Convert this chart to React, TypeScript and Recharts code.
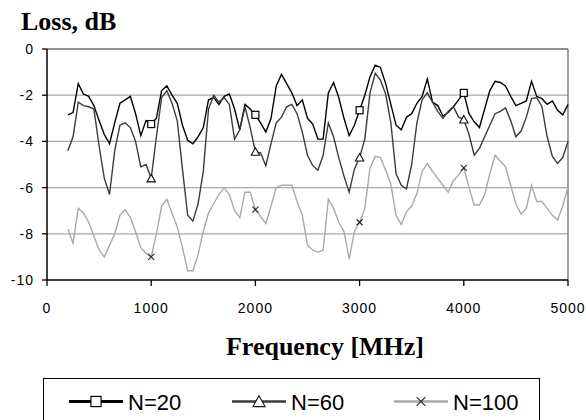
import React from 'react';
import { LineChart, Line, XAxis, YAxis, CartesianGrid, ReferenceLine } from 'recharts';

// frequency grid, MHz
const freq = [
  200, 250, 300, 350, 400, 450, 500, 550, 600, 650, 700, 750, 800, 850, 900, 950, 1000, 1050, 1100, 1150,
  1200, 1250, 1300, 1350, 1400, 1450, 1500, 1550, 1600, 1650, 1700, 1750, 1800, 1850, 1900, 1950, 2000, 2050,
  2100, 2150, 2200, 2250, 2300, 2350, 2400, 2450, 2500, 2550, 2600, 2650, 2700, 2750, 2800, 2850, 2900, 2950,
  3000, 3050, 3100, 3150, 3200, 3250, 3300, 3350, 3400, 3450, 3500, 3550, 3600, 3650, 3700, 3750, 3800, 3850,
  3900, 3950, 4000, 4050, 4100, 4150, 4200, 4250, 4300, 4350, 4400, 4450, 4500, 4550, 4600, 4650, 4700, 4750,
  4800, 4850, 4900, 4950, 5000,
];

const n20 = [
  -2.85, -2.75, -1.5, -1.95, -2.05, -2.45, -3.1, -3.7, -4.1, -3.2,
  -2.35, -2.2, -2.05, -2.8, -3.75, -3.1, -3.25, -3.0, -1.8, -1.6,
  -2.0, -2.35, -3.3, -3.95, -4.1, -3.8, -3.4, -2.2, -2.1, -2.4,
  -2.05, -1.95, -2.6, -3.5, -2.4, -2.6, -2.85, -3.2, -3.6, -3.0,
  -1.6, -1.1, -1.5, -1.9, -2.45, -2.2, -3.0, -3.25, -3.9, -3.9,
  -1.9, -1.45, -2.1, -3.0, -3.75, -3.3, -2.65, -2.0, -1.2, -0.7,
  -0.8, -1.5, -2.4, -3.3, -3.5, -2.95, -2.8, -2.35, -2.05, -1.3,
  -2.3, -2.45, -2.9, -2.75, -2.5, -2.2, -1.9, -2.8, -3.15, -3.4,
  -2.6, -1.8, -1.4, -1.45, -1.6, -2.05, -2.45, -2.35, -2.25, -1.4,
  -2.05, -2.15, -2.4, -2.25, -2.65, -2.85, -2.4,
];

const n60 = [
  -4.4, -3.8, -2.3, -2.45, -2.5, -2.6, -4.2, -5.6, -6.3, -4.4,
  -3.3, -3.2, -3.4, -4.0, -5.1, -5.0, -5.6, -3.8, -2.1, -1.8,
  -2.35, -3.1, -5.2, -7.2, -7.45, -6.7, -5.3, -2.6, -2.0, -2.3,
  -2.1, -2.4, -3.9, -3.5, -2.5, -3.4, -4.45, -4.5, -5.05, -4.1,
  -3.2, -2.95, -2.5, -2.4, -2.8, -3.6, -4.6, -5.05, -5.25, -4.6,
  -3.2, -3.8, -4.7, -5.5, -6.2, -5.2, -4.7, -3.9, -1.9, -1.05,
  -1.35, -1.95, -3.2, -5.4, -5.9, -6.05, -5.0, -3.2, -2.2, -1.9,
  -2.3, -2.7, -3.0, -2.7, -2.5, -2.95, -3.05, -3.7, -4.6, -4.3,
  -3.8, -3.3, -2.8, -2.7, -2.55, -3.1, -3.8, -3.55, -2.95, -2.15,
  -2.1, -2.5, -3.8, -4.65, -4.95, -4.7, -4.0,
];

const n100 = [
  -7.8, -8.4, -6.9, -7.1, -7.5, -8.1, -8.7, -9.0, -8.5, -8.0,
  -7.2, -6.95, -7.3, -7.9, -8.6, -8.85, -9.0, -8.0, -6.8, -6.5,
  -7.1, -7.7, -8.6, -9.6, -9.6, -8.9, -7.9, -7.1, -6.7, -6.3,
  -6.0, -6.3, -7.0, -7.3, -6.2, -6.2, -6.95, -7.25, -7.55, -6.8,
  -6.0, -5.9, -5.9, -5.9, -6.6, -7.2, -8.5, -8.7, -8.8, -8.7,
  -6.5, -6.9, -7.5, -7.9, -9.1, -7.9, -7.5, -6.9, -5.15, -4.65,
  -4.7, -5.25, -5.85, -7.2, -7.6, -7.05, -6.8, -6.25, -5.3, -4.95,
  -5.3, -5.6, -5.9, -6.2, -5.7, -5.45, -5.15, -6.0, -6.75, -6.75,
  -6.3, -5.4, -4.6, -4.85, -5.1, -5.9, -6.7, -7.15, -6.9, -5.9,
  -6.6, -6.6, -6.9, -7.2, -7.4, -6.8, -5.95,
];

const xTicks = [0, 1000, 2000, 3000, 4000, 5000];
const yTicks = [0, -2, -4, -6, -8, -10];
const markerFreqs = [1000, 2000, 3000, 4000];

const data = freq.map((f, i) => ({ f, n20: n20[i], n60: n60[i], n100: n100[i] }));

const series = [
  { key: 'n20', name: 'N=20', color: '#000000', marker: 'square', legendWidth: 3 },
  { key: 'n60', name: 'N=60', color: '#3c3c3c', marker: 'triangle', legendWidth: 2.5 },
  { key: 'n100', name: 'N=100', color: '#a9a9a9', marker: 'cross', legendWidth: 2.5 },
];

const Marker = ({ type, x, y, s = 1 }: { type: string; x: number; y: number; s?: number }) => {
  if (type === 'square') {
    const h = 3.5 * s;
    return <rect x={x - h} y={y - h} width={2 * h} height={2 * h} fill="#fff" stroke="#000" strokeWidth={1.2} />;
  }
  if (type === 'triangle') {
    return (
      <path
        d={`M${x},${y - 4 * s} L${x + 4.2 * s},${y + 3.5 * s} L${x - 4.2 * s},${y + 3.5 * s} Z`}
        fill="#fff"
        stroke="#111"
        strokeWidth={1.1}
      />
    );
  }
  const h = 3 * s;
  return (
    <path d={`M${x - h},${y - h} L${x + h},${y + h} M${x + h},${y - h} L${x - h},${y + h}`} stroke="#222" strokeWidth={1.1} />
  );
};

const makeDot = (type: string) => (props: any) => {
  const { cx, cy, payload, index } = props;
  if (!markerFreqs.includes(payload.f)) return <g key={`d-${type}-${index}`} />;
  return (
    <g key={`d-${type}-${index}`}>
      <Marker type={type} x={cx} y={cy} />
    </g>
  );
};

const LegendBox = () => (
  <div
    style={{
      position: 'absolute',
      left: 43,
      top: 378,
      width: 497,
      height: 50,
      border: '1px solid #000',
      background: '#fff',
      boxSizing: 'border-box',
    }}
  >
    <svg width={497} height={50} style={{ position: 'absolute', left: -1, top: -1 }}>
      {series.map((s, i) => {
        const x0 = [26, 189, 351][i];
        const cy = 23.5;
        return (
          <g key={s.key}>
            <line x1={x0} x2={x0 + 54} y1={cy} y2={cy} stroke={s.color} strokeWidth={s.legendWidth} />
            <Marker type={s.marker} x={x0 + 27} y={cy} s={1.45} />
            <text
              x={x0 + 59}
              y={cy + 8}
              fontFamily="'Liberation Sans', Arial, sans-serif"
              fontSize={22}
              fill="#000"
            >
              {s.name}
            </text>
          </g>
        );
      })}
    </svg>
  </div>
);

const tickStyle = {
  fontSize: 14,
  fontFamily: "'Liberation Sans', Arial, sans-serif",
  fill: '#000',
  letterSpacing: 1,
};

export default function App() {
  return (
    <div style={{ position: 'absolute', left: 0, top: 0, width: 586, height: 420, background: '#fff', overflow: 'hidden' }}>
      <LineChart width={586} height={420} data={data} margin={{ top: 49, right: 18, bottom: 110, left: 0 }}>
        <CartesianGrid horizontal vertical={false} stroke="#a8a8a8" strokeWidth={1.3} horizontalValues={[-2, -4, -6, -8]} />
        <ReferenceLine y={0} stroke="#6e6e6e" strokeWidth={1.3} />
        <ReferenceLine x={5000} stroke="#6e6e6e" strokeWidth={1.3} />
        <XAxis
          type="number"
          dataKey="f"
          domain={[0, 5000]}
          ticks={xTicks}
          interval={0}
          height={30}
          tickSize={6}
          tickMargin={17}
          axisLine={{ stroke: '#000', strokeWidth: 1.5 }}
          tickLine={{ stroke: '#000', strokeWidth: 1.3 }}
          tick={tickStyle}
          label={{
            content: () => (
              <text
                x={325}
                y={355}
                textAnchor="middle"
                fontFamily="'Liberation Serif', 'Times New Roman', serif"
                fontWeight="bold"
                fontSize={26}
                fill="#000"
              >
                Frequency [MHz]
              </text>
            ),
          }}
        />
        <YAxis
          type="number"
          domain={[-10, 0]}
          ticks={yTicks}
          interval={0}
          width={47}
          tickSize={5}
          tickMargin={8}
          axisLine={{ stroke: '#000', strokeWidth: 1.5 }}
          tickLine={{ stroke: '#000', strokeWidth: 1.3 }}
          tick={tickStyle}
          label={{
            content: () => (
              <text
                x={21}
                y={30}
                fontFamily="'Liberation Serif', 'Times New Roman', serif"
                fontWeight="bold"
                fontSize={26}
                fill="#000"
              >
                Loss, dB
              </text>
            ),
          }}
        />
        {series.map((s) => (
          <Line
            key={s.key}
            type="linear"
            dataKey={s.key}
            name={s.name}
            stroke={s.color}
            strokeWidth={1.4}
            dot={makeDot(s.marker)}
            activeDot={false}
            isAnimationActive={false}
          />
        ))}
      </LineChart>
      <LegendBox />
    </div>
  );
}
